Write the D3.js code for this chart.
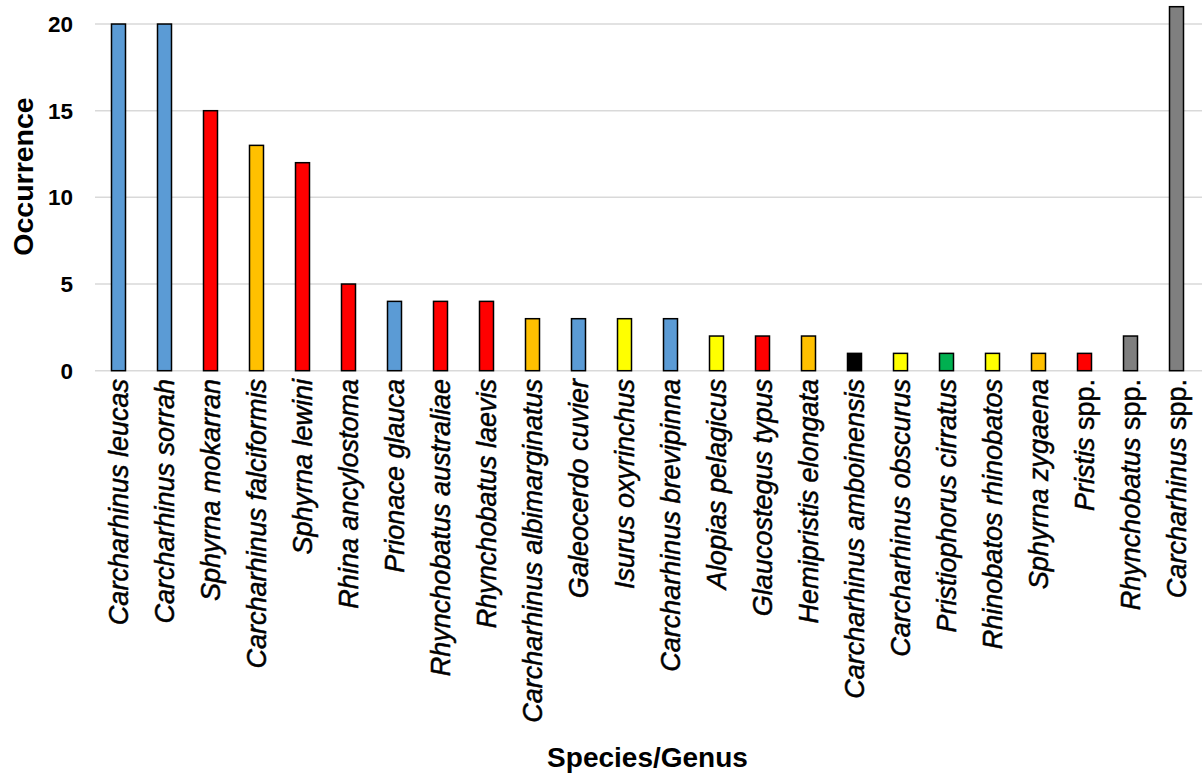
<!DOCTYPE html>
<html>
<head>
<meta charset="utf-8">
<script src="https://cdn.jsdelivr.net/npm/d3@7"></script>
<style>
  html, body { margin: 0; padding: 0; background: #fff; }
  svg { display: block; font-family: "Liberation Sans", Arial, sans-serif; }
</style>
</head>
<body>
<svg id="chart" width="1202" height="773"></svg>
<script>
// Categories: [italic part, upright suffix]
const genus = ["Carcharhinus leucas","Carcharhinus sorrah","Sphyrna mokarran","Carcharhinus falciformis","Sphyrna lewini","Rhina ancylostoma","Prionace glauca","Rhynchobatus australiae","Rhynchobatus laevis","Carcharhinus albimarginatus","Galeocerdo cuvier","Isurus oxyrinchus","Carcharhinus brevipinna","Alopias pelagicus","Glaucostegus typus","Hemipristis elongata","Carcharhinus amboinensis","Carcharhinus obscurus","Pristiophorus cirratus","Rhinobatos rhinobatos","Sphyrna zygaena","Pristis","Rhynchobatus","Carcharhinus"];
const suffix = ["","","","","","","","","","","","","","","","","","","","","","spp.","spp.","spp."];
const values = [20,20,15,13,12,5,4,4,4,3,3,3,3,2,2,2,1,1,1,1,1,1,2,21];
const colorKeys = ["blue","blue","red","orange","red","red","blue","red","red","orange","blue","yellow","blue","yellow","red","orange","black","yellow","green","yellow","orange","red","gray","gray"];
const yTicks = [0,5,10,15,20];
const xTitle = "Species/Genus";
const yTitle = "Occurrence";

const palette = {blue:"#5B9BD5", red:"#FF0000", orange:"#FFC000", yellow:"#FFFF00", black:"#000000", green:"#00B050", gray:"#7F7F7F"};

const svg = d3.select("#chart");
const ids = d3.range(values.length);

const x = d3.scaleBand().domain(ids).range([95.5, 1199.5]);
const y = d3.scaleLinear().domain([0, 21]).range([370.7, 6.7]);
const barW = 14;

// gridlines
svg.append("g").selectAll("line").data(yTicks).join("line")
  .attr("x1", 95).attr("x2", 1202)
  .attr("y1", d => y(d)).attr("y2", d => y(d))
  .attr("stroke", "#d9d9d9").attr("stroke-width", 1.5);

// y tick labels
svg.append("g").selectAll("text").data(yTicks).join("text")
  .attr("x", 73).attr("y", d => y(d)).attr("dy", "0.35em")
  .attr("text-anchor", "end")
  .attr("font-size", 22.5).attr("font-weight", "bold")
  .text(d => d);

// bars
svg.append("g").selectAll("rect").data(ids).join("rect")
  .attr("x", i => x(i) + x.bandwidth()/2 - barW/2)
  .attr("width", barW)
  .attr("y", i => y(values[i]))
  .attr("height", i => y(0) - y(values[i]))
  .attr("fill", i => palette[colorKeys[i]])
  .attr("stroke", "#000").attr("stroke-width", 1.5);

// category labels
const lab = svg.append("g").selectAll("text").data(ids).join("text")
  .attr("transform", i => `translate(${x(i) + x.bandwidth()/2},379) rotate(-90)`)
  .attr("dy", "0.35em")
  .attr("text-anchor", "end")
  .attr("font-size", 27)
  .attr("stroke", "#000").attr("stroke-width", 0.5);
lab.append("tspan").attr("font-style", "italic").text(i => genus[i]);
lab.filter(i => suffix[i]).append("tspan").text(i => " " + suffix[i]);

// axis titles
svg.append("text")
  .attr("transform", "translate(33,176.5) rotate(-90)")
  .attr("text-anchor", "middle")
  .attr("font-size", 28.5).attr("font-weight", "bold")
  .text(yTitle);

svg.append("text")
  .attr("x", 647.5).attr("y", 767)
  .attr("text-anchor", "middle")
  .attr("font-size", 28).attr("font-weight", "bold")
  .text(xTitle);
</script>
</body>
</html>
